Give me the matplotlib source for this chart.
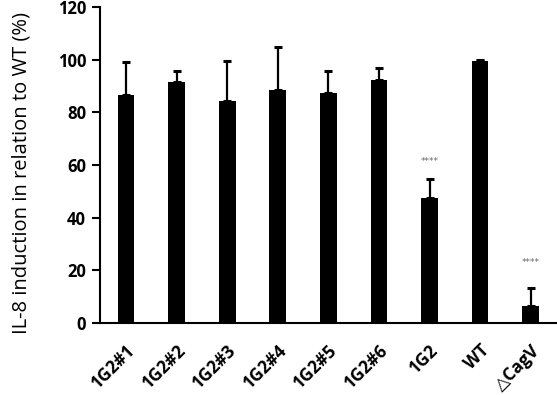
import numpy as np
from matplotlib import pyplot as plt

strains = ['1G2#1', '1G2#2', '1G2#3', '1G2#4', '1G2#5', '1G2#6', '1G2', 'WT', '\u25b3CagV']
induction = [86.8, 91.5, 84.4, 88.4, 87.3, 92.4, 47.7, 99.5, 6.4]
upper = [99.0, 95.9, 99.4, 104.9, 95.7, 96.7, 54.9, 100.1, 13.4]
err = [u - v for u, v in zip(upper, induction)]
stars = {6: 61.2, 8: 23.2}

fig = plt.figure(figsize=(5.57, 3.95), dpi=100)
ax = fig.add_axes([0.1795, 0.182, 0.8205, 0.800])

x = np.arange(len(strains))
ax.errorbar(x, induction, yerr=[np.zeros(len(err)), err], fmt='none',
            ecolor='black', elinewidth=1.6, capsize=3, capthick=2.2, zorder=1)
ax.bar(x, induction, width=0.33, color='black', zorder=2)

for i, y in stars.items():
    ax.text(x[i], y, '****', ha='center', va='center', fontsize=6.5, color='#666666')

ax.set_xlim(-0.514, 8.52)
ax.set_ylim(0, 120)
ax.set_yticks(np.arange(0, 121, 20))
ax.set_yticklabels([str(v) for v in range(0, 121, 20)], fontsize=12, fontweight='bold',
                   family='Open Sans')
ax.set_xticks(x)
ax.set_xticklabels(strains, rotation=45, ha='right', rotation_mode='anchor',
                   fontsize=12.5, fontweight='bold', family=['Open Sans', 'DejaVu Sans'])
ax.tick_params(axis='x', length=0, pad=13)
ax.tick_params(axis='y', direction='out', length=6, width=1.5, pad=4)
ax.set_ylabel('IL-8 induction in relation to WT (%)', fontsize=14.5, family='Open Sans')
ax.yaxis.set_label_coords(-0.15, 0.475)
for s in ['top', 'right']:
    ax.spines[s].set_visible(False)
ax.spines['left'].set_linewidth(1.5)
ax.spines['bottom'].set_linewidth(1.5)

fig.savefig('out.png', dpi=100)
